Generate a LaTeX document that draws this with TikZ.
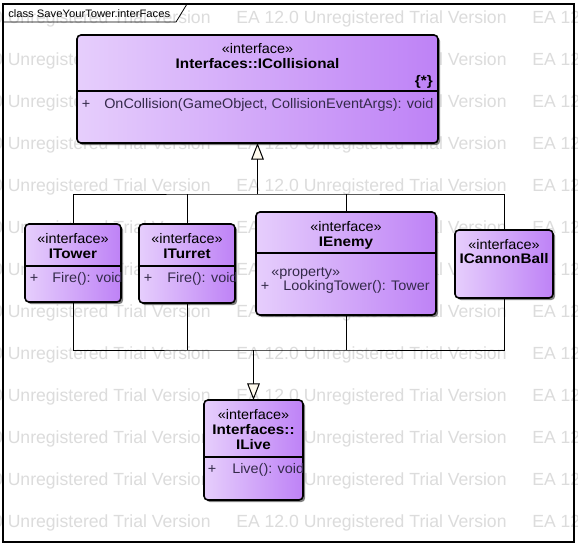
\documentclass[tikz,border=0pt]{standalone}
\usepackage{fontspec}
\setmainfont{Liberation Sans}[FakeStretch=1.04]
\newfontfamily\namefont{Liberation Sans}[FakeStretch=1.1]
\newfontfamily\wmfont{Liberation Sans}
\usetikzlibrary{arrows.meta,shadows}
\definecolor{boxL}{RGB}{230,206,252}
\definecolor{boxR}{RGB}{190,130,246}
\definecolor{attrc}{RGB}{52,42,74}
\definecolor{wmc}{RGB}{220,220,220}
\definecolor{tipc}{RGB}{255,250,238}
\tikzset{
  umlbox/.style={draw=black, line width=1.2pt, rounded corners=3pt, left color=boxL, right color=boxR, inner sep=0pt, outer sep=0pt, drop shadow={shadow xshift=1.6pt, shadow yshift=-1.6pt, fill=black!70, opacity=0.7}},
  divider/.style={draw=black, line width=1.1pt},
  stereo/.style={font=\fontsize{10.4}{12}\selectfont, anchor=base, inner sep=0pt},
  cname/.style={font=\namefont\bfseries\fontsize{10.4}{12}\selectfont, anchor=base, inner sep=0pt},
  attr/.style={font=\fontsize{10.4}{12}\selectfont, text=attrc, anchor=base west, inner sep=0pt},
  conn/.style={draw=black, line width=0.75pt},
  gen/.style={conn, -{Triangle[length=12.5pt, width=9.5pt, fill=tipc]}},
  wm/.style={font=\wmfont\fontsize{13.2}{15}\selectfont, text=wmc, anchor=base west, inner sep=0pt},
  titletext/.style={font=\fontsize{8.1}{9}\selectfont, anchor=base west, inner sep=0pt},
}
\newcommand\umlnode[5]{\node[umlbox, minimum width={(#4-#2)*0.75pt}, minimum height={(#5-#3)*0.75pt}] (#1) at ({(#2+#4)/2},{(#3+#5)/2}) {};}
\newcommand\divline[2]{\draw[divider] (#1.west |- 0,#2) -- (#1.east |- 0,#2);}
\newcommand\boxclip[1]{\clip (#1.south west) rectangle (#1.north east);}
\begin{document}
\begin{tikzpicture}[x=0.75pt,y=-0.75pt]
\useasboundingbox (0,0) rectangle (578,547);
\fill[white] (0,0) rectangle (578,547);
% watermark
\begin{scope}
\clip (0,0) rectangle (578,547);
\foreach \k in {0,...,12}{
  \foreach \j in {0,1,2}{
    \node[wm] (wm-\k-\j) at ({-60+296*\j},{23+42*\k}) {EA 12.0 Unregistered Trial Version};
  }
}
\end{scope}
% frame
\draw[line width=0.9pt] (3,4) rectangle (574,542);
\draw[line width=0.6pt] (3,22) -- (176,22) -- (187,4);
\node[titletext] (title) at (8,17) {class SaveYourTower.interFaces};

% ICollisional
\umlnode{icoll}{77}{35}{438}{143}
\divline{icoll}{91}
\node[stereo] (icoll-st) at (257.5,53) {«interface»};
\node[cname] (icoll-nm) at (257.5,68) {Interfaces::ICollisional};
\node[cname, anchor=base east] (icoll-tag) at (433,85) {\{*\}};
\node[attr, anchor=base] (icoll-p) at (86,108) {+};
\node[attr] (icoll-op) at (104,108) {OnCollision(GameObject, CollisionEventArgs): void};

% ITower
\umlnode{itower}{25}{224}{121}{302}
\divline{itower}{266}
\node[stereo] (itower-st) at (73,243) {«interface»};
\node[cname] (itower-nm) at (73,258) {ITower};
\begin{scope}
\boxclip{itower}
\node[attr, anchor=base] (itower-p) at (34,282) {+};
\node[attr] (itower-op) at (52,282) {Fire(): void};
\end{scope}

% ITurret
\umlnode{iturret}{139}{224}{235}{303}
\divline{iturret}{266}
\node[stereo] (iturret-st) at (187,243) {«interface»};
\node[cname] (iturret-nm) at (187,258) {ITurret};
\begin{scope}
\boxclip{iturret}
\node[attr, anchor=base] (iturret-p) at (148,282) {+};
\node[attr] (iturret-op) at (167,282) {Fire(): void};
\end{scope}

% IEnemy
\umlnode{ienemy}{256}{212}{436}{315}
\divline{ienemy}{253}
\node[stereo] (ienemy-st) at (346,231) {«interface»};
\node[cname] (ienemy-nm) at (346,246) {IEnemy};
\begin{scope}
\boxclip{ienemy}
\node[attr] (ienemy-pr) at (271,276) {«property»};
\node[attr, anchor=base] (ienemy-p) at (265,290) {+};
\node[attr] (ienemy-op) at (283,290) {LookingTower(): Tower};
\end{scope}

% ICannonBall
\umlnode{icannon}{455}{230}{553}{298}
\node[stereo] (icannon-st) at (504,249) {«interface»};
\node[cname] (icannon-nm) at (504,263) {ICannonBall};

% ILive
\umlnode{ilive}{204}{400}{303}{500}
\divline{ilive}{457}
\node[stereo] (ilive-st) at (253.5,419) {«interface»};
\node[cname] (ilive-nm1) at (253.5,434) {Interfaces::};
\node[cname] (ilive-nm2) at (253.5,449) {ILive};
\begin{scope}
\boxclip{ilive}
\node[attr, anchor=base] (ilive-p) at (212,473) {+};
\node[attr] (ilive-op) at (232,473) {Live(): void};
\end{scope}

% connectors
\coordinate (topj) at (257.5,194);
\coordinate (botj) at (253.5,350);
\draw[conn] (itower.north) |- (topj) -| (icannon.north);
\draw[conn] (iturret.north) -- (iturret.north |- topj);
\draw[conn] (ienemy.north) -- (ienemy.north |- topj);
\draw[gen] (topj) -- (icoll.south);
\draw[conn] (itower.south) |- (botj) -| (icannon.south);
\draw[conn] (iturret.south) -- (iturret.south |- botj);
\draw[conn] (ienemy.south) -- (ienemy.south |- botj);
\draw[gen] (botj) -- (ilive.north);
\end{tikzpicture}
\end{document}
